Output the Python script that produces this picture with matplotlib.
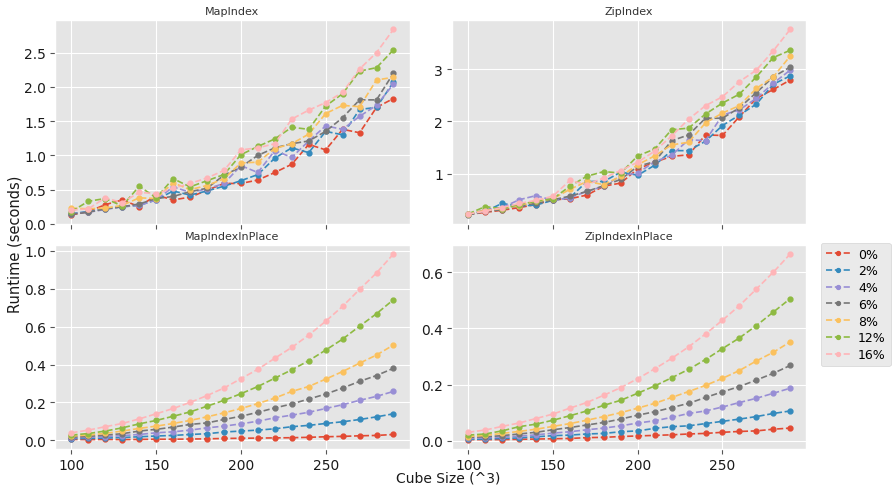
import matplotlib

matplotlib.use("Agg")
import matplotlib.pyplot as plt

sizes = list(range(100, 300, 10))
labels = ["0%", "2%", "4%", "6%", "8%", "12%", "16%"]

map_index = [
    [0.13, 0.18, 0.28, 0.35, 0.25, 0.42, 0.35, 0.39, 0.49, 0.59, 0.59, 0.64, 0.75, 0.87, 1.16, 1.08, 1.38, 1.33, 1.70, 1.83],
    [0.15, 0.18, 0.22, 0.25, 0.27, 0.35, 0.48, 0.42, 0.48, 0.55, 0.63, 0.72, 0.96, 1.11, 1.04, 1.35, 1.30, 1.67, 1.70, 2.07],
    [0.15, 0.17, 0.21, 0.25, 0.27, 0.35, 0.54, 0.46, 0.51, 0.59, 0.85, 0.75, 1.07, 0.97, 1.21, 1.43, 1.38, 1.57, 1.73, 2.04],
    [0.14, 0.17, 0.22, 0.25, 0.29, 0.37, 0.40, 0.47, 0.52, 0.71, 0.83, 1.00, 1.11, 1.17, 1.21, 1.35, 1.55, 1.81, 1.81, 2.20],
    [0.23, 0.22, 0.23, 0.27, 0.38, 0.37, 0.60, 0.50, 0.56, 0.66, 0.89, 0.90, 1.10, 1.17, 1.31, 1.61, 1.73, 1.71, 2.10, 2.14],
    [0.18, 0.33, 0.37, 0.26, 0.55, 0.38, 0.66, 0.54, 0.63, 0.72, 1.01, 1.13, 1.24, 1.41, 1.38, 1.72, 1.90, 2.23, 2.28, 2.54],
    [0.20, 0.22, 0.38, 0.31, 0.46, 0.44, 0.52, 0.59, 0.67, 0.78, 1.08, 1.11, 1.17, 1.53, 1.66, 1.77, 1.92, 2.26, 2.50, 2.84],
]

zip_index = [
    [0.22, 0.26, 0.30, 0.35, 0.41, 0.50, 0.52, 0.59, 0.76, 0.82, 1.09, 1.22, 1.33, 1.36, 1.74, 1.73, 2.09, 2.44, 2.61, 2.79],
    [0.22, 0.28, 0.43, 0.38, 0.40, 0.49, 0.54, 0.85, 0.85, 1.03, 0.97, 1.16, 1.44, 1.44, 1.62, 1.92, 2.12, 2.33, 2.71, 2.87],
    [0.22, 0.31, 0.35, 0.50, 0.58, 0.49, 0.54, 0.66, 0.76, 0.96, 1.01, 1.23, 1.35, 1.65, 1.63, 2.12, 2.22, 2.44, 2.73, 2.98],
    [0.21, 0.28, 0.31, 0.39, 0.43, 0.50, 0.57, 0.66, 0.77, 0.89, 1.14, 1.23, 1.63, 1.74, 2.06, 2.06, 2.26, 2.55, 2.85, 3.04],
    [0.23, 0.30, 0.33, 0.39, 0.47, 0.52, 0.70, 0.85, 0.79, 0.95, 1.17, 1.34, 1.55, 1.60, 1.97, 2.16, 2.30, 2.63, 2.85, 3.25],
    [0.23, 0.37, 0.33, 0.41, 0.47, 0.52, 0.76, 0.95, 1.04, 1.01, 1.34, 1.47, 1.84, 1.87, 2.14, 2.35, 2.52, 2.85, 3.22, 3.36],
    [0.23, 0.28, 0.35, 0.43, 0.49, 0.57, 0.87, 0.79, 0.92, 1.06, 1.22, 1.43, 1.72, 2.04, 2.30, 2.47, 2.76, 2.98, 3.35, 3.76],
]

map_inplace = [
    [0.005, 0.004, 0.005, 0.004, 0.005, 0.006, 0.006, 0.007, 0.008, 0.010, 0.011, 0.012, 0.013, 0.014, 0.016, 0.019, 0.021, 0.024, 0.026, 0.031],
    [0.009, 0.010, 0.012, 0.015, 0.019, 0.023, 0.026, 0.031, 0.035, 0.044, 0.049, 0.054, 0.061, 0.072, 0.079, 0.089, 0.098, 0.110, 0.124, 0.140],
    [0.014, 0.016, 0.020, 0.025, 0.031, 0.040, 0.045, 0.054, 0.066, 0.075, 0.087, 0.101, 0.119, 0.133, 0.148, 0.168, 0.188, 0.211, 0.232, 0.258],
    [0.017, 0.021, 0.028, 0.035, 0.049, 0.058, 0.070, 0.084, 0.092, 0.110, 0.127, 0.148, 0.171, 0.192, 0.218, 0.244, 0.276, 0.311, 0.342, 0.380],
    [0.023, 0.028, 0.037, 0.049, 0.063, 0.075, 0.089, 0.105, 0.124, 0.145, 0.168, 0.194, 0.223, 0.258, 0.284, 0.323, 0.363, 0.407, 0.450, 0.503],
    [0.028, 0.036, 0.049, 0.066, 0.087, 0.105, 0.127, 0.150, 0.180, 0.211, 0.246, 0.284, 0.328, 0.372, 0.420, 0.476, 0.534, 0.602, 0.668, 0.742],
    [0.040, 0.054, 0.072, 0.089, 0.113, 0.140, 0.168, 0.200, 0.236, 0.276, 0.325, 0.375, 0.433, 0.490, 0.555, 0.628, 0.707, 0.796, 0.883, 0.983],
]

zip_inplace = [
    [0.004, 0.004, 0.004, 0.005, 0.006, 0.007, 0.008, 0.011, 0.012, 0.015, 0.017, 0.019, 0.021, 0.024, 0.026, 0.030, 0.033, 0.035, 0.041, 0.045],
    [0.005, 0.006, 0.008, 0.010, 0.014, 0.018, 0.020, 0.024, 0.026, 0.032, 0.035, 0.044, 0.050, 0.053, 0.061, 0.069, 0.077, 0.086, 0.097, 0.106],
    [0.008, 0.010, 0.013, 0.016, 0.021, 0.027, 0.032, 0.039, 0.045, 0.053, 0.063, 0.071, 0.083, 0.097, 0.106, 0.120, 0.136, 0.151, 0.169, 0.187],
    [0.012, 0.014, 0.018, 0.024, 0.030, 0.039, 0.047, 0.056, 0.065, 0.077, 0.091, 0.103, 0.118, 0.133, 0.154, 0.174, 0.193, 0.216, 0.240, 0.268],
    [0.015, 0.019, 0.026, 0.033, 0.041, 0.051, 0.061, 0.073, 0.086, 0.100, 0.116, 0.133, 0.154, 0.175, 0.197, 0.222, 0.250, 0.284, 0.315, 0.352],
    [0.020, 0.024, 0.035, 0.050, 0.059, 0.073, 0.089, 0.106, 0.126, 0.144, 0.169, 0.195, 0.224, 0.254, 0.289, 0.328, 0.366, 0.410, 0.458, 0.506],
    [0.030, 0.038, 0.051, 0.063, 0.079, 0.095, 0.116, 0.136, 0.162, 0.189, 0.221, 0.256, 0.293, 0.334, 0.380, 0.429, 0.481, 0.540, 0.600, 0.665],
]

panels = [
    ("MapIndex", map_index),
    ("ZipIndex", zip_index),
    ("MapIndexInPlace", map_inplace),
    ("ZipIndexInPlace", zip_inplace),
]

plt.style.use("ggplot")
fig, axes = plt.subplots(2, 2, figsize=(8.92, 4.89), dpi=100, sharex=True)
fig.subplots_adjust(left=0.062, right=0.904, top=0.957, bottom=0.080,
                    wspace=0.12, hspace=0.10)

for ax, (title, series) in zip(axes.flat, panels):
    for label, values in zip(labels, series):
        ax.plot(sizes, values, linestyle="--", marker="o", ms=3.5, lw=1.2,
                label=label)
    ax.set_title(title, fontsize=8, color="#333333", pad=4)
    ax.tick_params(labelsize=10, labelcolor="#1a1a1a", pad=3)

axes[1, 1].legend(loc="upper left", bbox_to_anchor=(1.04, 1.01),
                  borderaxespad=0, fontsize=9, markerscale=0.8,
                  handlelength=2.0, handletextpad=0.6, labelspacing=0.3,
                  borderpad=0.4)
fig.text(0.017, 0.5, "Runtime (seconds)", rotation=90, va="center",
         ha="center", fontsize=10.5, color="#1a1a1a")
fig.text(0.503, 0.022, "Cube Size (^3)", ha="center", va="center",
         fontsize=10, color="#1a1a1a")

fig.savefig("out.png", dpi=100)
